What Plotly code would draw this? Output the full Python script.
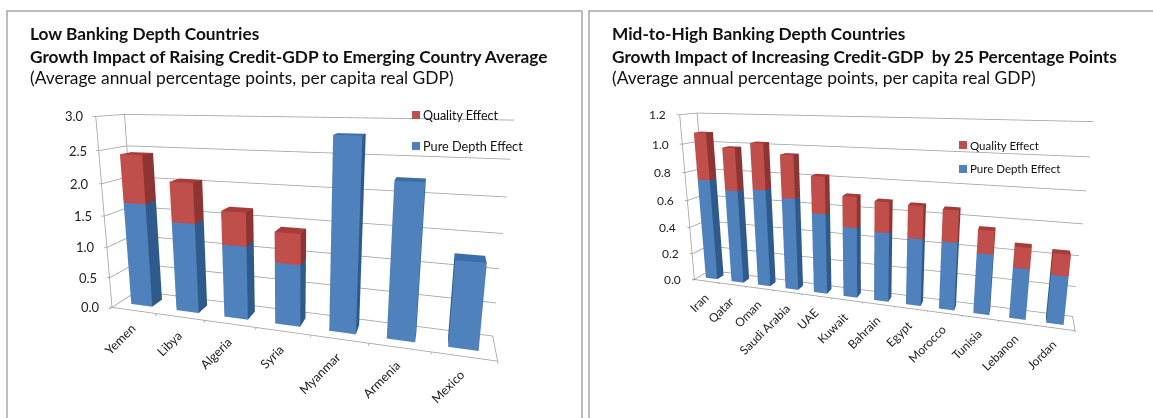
import plotly.graph_objects as go

# ---- data ----
left_categories = ["Yemen", "Libya", "Algeria", "Syria", "Myanmar", "Armenia", "Mexico"]
left_depth = [1.68, 1.43, 1.15, 0.95, 2.8, 2.23, 1.23]
left_quality = [0.75, 0.62, 0.51, 0.46, 0, 0, 0]
left_ticks = [0, 0.5, 1.0, 1.5, 2.0, 2.5, 3.0]
right_categories = ["Iran", "Qatar", "Oman", "Saudi Arabia", "UAE", "Kuwait", "Bahrain", "Egypt", "Morocco", "Tunisia", "Lebanon", "Jordan"]
right_depth = [0.745, 0.68, 0.70, 0.656, 0.566, 0.49, 0.475, 0.455, 0.453, 0.40, 0.33, 0.31]
right_quality = [0.33, 0.30, 0.32, 0.294, 0.254, 0.21, 0.205, 0.215, 0.207, 0.15, 0.134, 0.135]
right_ticks = [0, 0.2, 0.4, 0.6, 0.8, 1.0, 1.2]
left_title = ["Low Banking Depth Countries", "Growth Impact of Raising Credit-GDP to Emerging Country Average"]
right_title = ["Mid-to-High Banking Depth Countries", "Growth Impact of Increasing Credit-GDP  by 25 Percentage Points"]
subtitle = "(Average annual percentage points, per capita real GDP)"

W, H = 1153, 418
left_view = [0.662, -2.238, 0.618, 0.092, -0.341, 0.157, 1.910, 0.237]
right_view = [0.789, -2.535, 0.686, 0.087, -0.311, 0.094, 2.182, 0.162]
BAR_D = 0.42
GRID = "#A0A0A0"
TICK_D = 0.1

fig = go.Figure()

def box(x, w, d, z0, z1):
    X = [x-w/2, x+w/2, x+w/2, x-w/2] * 2
    Y = [.5-d/2, .5-d/2, .5+d/2, .5+d/2] * 2
    Z = [z0]*4 + [z1]*4
    return X, Y, Z

def bars(cats, series, colors, scene, bar_w):
    xs, ys, zs, ii, jj, kk, fc = [], [], [], [], [], [], []
    for c in range(len(cats)):
        base = 0
        for vals, (front, side, top) in zip(series, colors):
            v = vals[c]
            if v > 0:
                X, Y, Z = box(c, bar_w, BAR_D, base, base + v)
                n = len(xs)
                xs += X; ys += Y; zs += Z
                tri = [(0,1,5),(0,5,4),(1,2,6),(1,6,5),(4,5,6),(4,6,7),(3,2,6),(3,6,7),(0,3,7),(0,7,4),(0,1,2),(0,2,3)]
                col = [front]*2 + [side]*2 + [top]*2 + [side]*6
                for a, b, e in tri:
                    ii.append(n+a); jj.append(n+b); kk.append(n+e)
                fc += col
            base += v
    fig.add_trace(go.Mesh3d(x=xs, y=ys, z=zs, i=ii, j=jj, k=kk, facecolor=fc, flatshading=True,
                            lighting=dict(ambient=1, diffuse=0, specular=0, roughness=1, fresnel=0),
                            hoverinfo="skip", scene=scene))

def frame(cats, ticks, scene, tl):
    n = len(cats)
    a, b = -.5, n - .5
    zmax = ticks[-1]
    X = [a, b, b, None, a, a, None, a, a]
    Y = [0, 0, 1, None, 0, 0, None, 1, 1]
    Z = [0, 0, 0, None, 0, zmax, None, 0, zmax]
    for c in range(n + 1):
        X += [None, a + c, a + c]; Y += [None, 0, -TICK_D]; Z += [None, 0, 0]
    for t in ticks:
        X += [None, a - tl, a, a, b]; Y += [None, 0, 0, 1, 1]; Z += [None, t, t, t, t]
    fig.add_trace(go.Scatter3d(x=X, y=Y, z=Z, mode="lines", line=dict(color=GRID, width=1.6),
                               hoverinfo="skip", showlegend=False, scene=scene))

COL = [("#4F81BD", "#2F5A8C", "#3B6DA8"), ("#C04F4B", "#8E3432", "#A53E3B")]
bars(left_categories, [left_depth, left_quality], COL, "scene", .47)
frame(left_categories, left_ticks, "scene", .06)
bars(right_categories, [right_depth, right_quality], COL, "scene2", .45)
frame(right_categories, right_ticks, "scene2", .1)

def scene_layout(dom, p, cats, ticks, fs, zfs, lab_shift, zs, tl):
    zmax = ticks[-1]
    n = len(cats)
    tick_ann = []
    for i, c in enumerate(cats):
        tick_ann.append(dict(x=i, y=0, z=0, text=c, textangle=-45, xanchor="right", yanchor="top", showarrow=False,
                             xshift=lab_shift[0], yshift=lab_shift[1], font=dict(family="Lato", size=fs, color="#222")))
    for t in ticks:
        tick_ann.append(dict(x=-.5, y=0, z=t, text=f"{t:.1f}", xanchor="right", yanchor="middle", showarrow=False,
                             xshift=zs, font=dict(family="Lato", size=zfs, color="#222")))
    off = dict(showticklabels=False, showgrid=False, showbackground=False, showspikes=False,
               zeroline=False, showline=False, ticks="", title="")
    # widen the axis ranges a little so edge lines and ticks are not clipped, keeping the same view
    core = [(-.5, n - .5), (0, 1), (0, zmax)]
    pad = [(-.5 - tl - .02, n - .5 + .02), (-TICK_D - .02, 1.02), (-.01 * zmax, 1.01 * zmax)]
    aspect0 = [p[6], p[7], 1.0]
    aspect, shift = [], []
    for (L, U), (lo, hi), A in zip(core, pad, aspect0):
        aspect.append(A * (hi - lo) / (U - L))
        shift.append(A * ((lo + hi) / 2 - (L + U) / 2) / (U - L))
    return dict(
        domain=dict(x=dom, y=[0, 1]),
        aspectmode="manual", aspectratio=dict(x=aspect[0], y=aspect[1], z=aspect[2]),
        camera=dict(eye=dict(x=p[0] - shift[0], y=p[1] - shift[1], z=p[2] - shift[2]),
                    center=dict(x=p[3] - shift[0], y=p[4] - shift[1], z=p[5] - shift[2]),
                    up=dict(x=0, y=0, z=1), projection=dict(type="perspective")),
        bgcolor="rgba(0,0,0,0)",
        annotations=tick_ann,
        xaxis=dict(range=list(pad[0]), **off),
        yaxis=dict(range=list(pad[1]), **off),
        zaxis=dict(range=list(pad[2]), **off),
    )

ann = []
def add_text(x, y, t, size):
    ann.append(dict(x=x, y=y, xref="paper", yref="paper", xanchor="left", yanchor="middle", text=t, showarrow=False,
                    font=dict(family="Lato", size=size, color="#111")))
def head(x, title):
    add_text(x/W, 1-33/H, f"<b>{title[0]}</b>", 17.27)
    add_text(x/W, 1-56/H, f"<b>{title[1]}</b>", 17.27)
    add_text(x/W, 1-78/H, subtitle, 17.4)
head(28, left_title); head(610, right_title)

shapes = []
def leg(x, y, c, t, size):
    shapes.append(dict(type="rect", xref="paper", yref="paper", x0=x/W, x1=(x+8)/W, y0=1-(y+4)/H, y1=1-(y-4)/H,
                       fillcolor=c, line_width=0))
    add_text((x+9)/W, 1-y/H, t, size)
leg(412, 115, "#C04F4B", "Quality Effect", 12.5); leg(412, 146, "#4F81BD", "Pure Depth Effect", 12.7)
leg(959, 145, "#C04F4B", "Quality Effect", 11.5); leg(959, 169, "#4F81BD", "Pure Depth Effect", 11.5)
for x0, x1, y0 in [(7, 582, 11), (589, W + 5, 11)]:
    shapes.append(dict(type="path", xref="paper", yref="paper",
        path=f"M {x0/W} 0 L {x0/W} {1-y0/H} L {x1/W} {1-y0/H} L {x1/W} 0", line=dict(color="#A6A6A6", width=1.5)))

fig.update_layout(width=W, height=H, margin=dict(l=0, r=0, t=0, b=0), paper_bgcolor="white", showlegend=False,
                  scene=scene_layout([0, .5], left_view, left_categories, left_ticks, 12.5, 13, (7, -8), -10, .06),
                  scene2=scene_layout([.5, 1], right_view, right_categories, right_ticks, 12, 12, (8, -6), -11, .1),
                  annotations=ann, shapes=shapes)
fig.write_html("out.html", config=dict(displayModeBar=False),
               post_script="document.body.style.margin='0';document.documentElement.style.overflow='hidden';")
